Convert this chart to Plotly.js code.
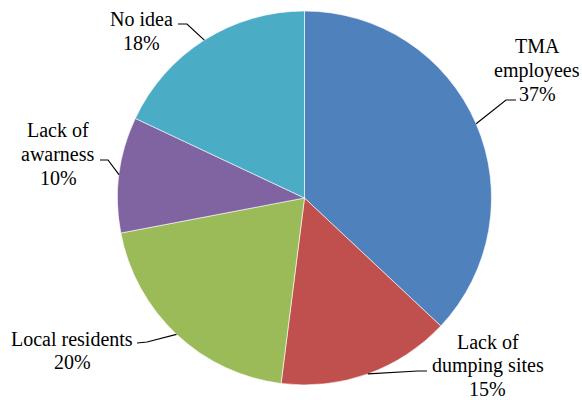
<!DOCTYPE html>
<html><head><meta charset="utf-8">
<script src="https://cdn.plot.ly/plotly-3.0.1.min.js"></script>
<style>html,body{margin:0;padding:0;background:#fff}#chart{width:582px;height:400px}
#chart text{font-family:"Liberation Serif","Times New Roman",serif !important}</style>
</head><body><div id="chart"></div>
<script>
// Data
var categories = ["TMA employees", "Lack of dumping sites", "Local residents", "Lack of awareness", "No idea"];
var labelLines = [["TMA", "employees"], ["Lack of", "dumping sites"], ["Local residents"], ["Lack of", "awarness"], ["No idea"]];
var values = [37, 15, 20, 10, 18];
var colors = ["#4F81BD", "#C0504D", "#9BBB59", "#8064A2", "#4BACC6"];

// Layout styles (pixel positions)
var W = 582, H = 400;
var pieLeft = 117.5, pieRight = 491.5, pieTop = 11, pieBottom = 385;
var cx = (pieLeft + pieRight) / 2, cy = (pieTop + pieBottom) / 2, R = (pieBottom - pieTop) / 2;
// label block centre x, first baseline y, leader elbow and end (pixels)
var labelStyle = [
  {x: 537, y: 53, elbow: [506, 100], end: [516, 100]},
  {x: 487.5, y: 348, elbow: [418, 371], end: [427, 371]},
  {x: 72, y: 345, elbow: [147, 342], end: [137, 343]},
  {x: 58, y: 137, elbow: [108, 160], end: [100, 160]},
  {x: 141, y: 26, elbow: [187, 24], end: [178, 24]}
];
var lineGap = 23.5, fontSize = 20;
var fontFam = "Liberation Serif, Times New Roman, serif";

function px(x) { return x / W; }
function py(y) { return 1 - y / H; }

var total = values.reduce(function (a, b) { return a + b; }, 0);
var annotations = [], shapes = [];
var cum = 0;
values.forEach(function (v, i) {
  var mid = (cum + v / 2) / total * 2 * Math.PI; cum += v;
  var ex = cx + R * Math.sin(mid), ey = cy - R * Math.cos(mid);
  var st = labelStyle[i];
  var pct = Math.round(v / total * 100) + "%";
  var lines = labelLines[i].concat([pct]);
  lines.forEach(function (t, k) {
    annotations.push({
      text: t, xref: "paper", yref: "paper", showarrow: false,
      x: px(st.x), y: py(st.y + k * lineGap - 6.5), xanchor: "center", yanchor: "middle",
      font: {family: fontFam, size: fontSize, color: "#000"}
    });
  });
  shapes.push({
    type: "path", xref: "paper", yref: "paper",
    path: "M" + px(ex) + "," + py(ey) + " L" + px(st.elbow[0]) + "," + py(st.elbow[1]) + " L" + px(st.end[0]) + "," + py(st.end[1]),
    line: {color: "#000", width: 1.2}
  });
});

var trace = {
  type: "pie", values: values, labels: categories, sort: false, direction: "clockwise", rotation: 0,
  marker: {colors: colors, line: {color: "#ffffff", width: 0.6}},
  textinfo: "none", hoverinfo: "label+percent", showlegend: false,
  domain: {x: [px(pieLeft), px(pieRight)], y: [py(pieBottom), py(pieTop)]}
};

Plotly.newPlot("chart", [trace], {
  width: W, height: H, margin: {l: 0, r: 0, t: 0, b: 0},
  paper_bgcolor: "#fff", showlegend: false, font: {family: fontFam},
  annotations: annotations, shapes: shapes
}, {displayModeBar: false, staticPlot: true});
</script></body></html>
